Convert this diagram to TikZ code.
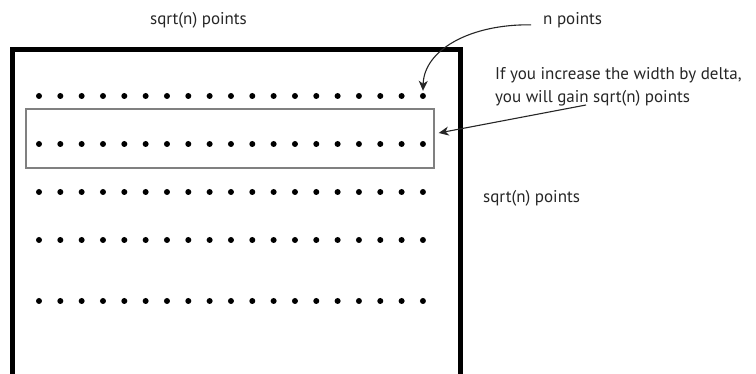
\documentclass[tikz,border=0pt]{standalone}
\usepackage{fontspec}
\setmainfont{PT Sans}
\usetikzlibrary{arrows.meta}
\tikzset{
  frame/.style={line width=5pt, line cap=butt, line join=miter},
  dot/.style={circle, fill=black, inner sep=0pt, minimum size=6pt},
  band/.style={draw=black!50, line width=1.4pt, inner sep=0pt},
  label/.style={inner sep=0pt, text=black!85, font=\fontsize{17}{21}\selectfont},
  pointer/.style={line width=1.1pt, black!85, -{Stealth[length=10pt,width=9pt,inset=3pt]}}
}
\begin{document}
\begin{tikzpicture}[x=1pt, y=-1pt]
  \useasboundingbox (0,0) rectangle (756,374);
  \clip (0,0) rectangle (756,374);
  \fill[white] (0,0) rectangle (756,374);

  % the square region, open at the bottom edge of the page
  \draw[frame] (12.5,390) -- (12.5,50) -- (460,50) -- (460,390);

  % highlighted strip around the second row
  \node[band, minimum width=408pt, minimum height=59pt] (strip) at (230,138.5) {};

  % rows of points
  \foreach \r/\y in {1/96, 2/144, 3/192, 4/240, 5/301} {
    \foreach \c in {1,...,19} {
      \node[dot] (d-\r-\c) at ({39+(\c-1)*21.33}, \y) {};
    }
  }

  % labels
  \node[label, anchor=base] (top) at (198.5,25) {sqrt(n) points};
  \node[label, anchor=base west] (npts) at (543,25) {n points};
  \node[label, anchor=base west] (line1) at (495,80) {If you increase the width by delta,};
  \node[label, anchor=base west] (line2) at (495,103) {you will gain sqrt(n) points};
  \node[label, anchor=base west] (side) at (483,203) {sqrt(n) points};

  % connectors
  \coordinate (gain) at (586,105);
  \draw[pointer, shorten <=12pt, shorten >=2pt] (npts.base west) .. controls (470,24) and (424,50) .. (d-1-19.north);
  \draw[pointer] (gain) -- ([shift={(4,-5.5)}]strip.east);
\end{tikzpicture}
\end{document}
